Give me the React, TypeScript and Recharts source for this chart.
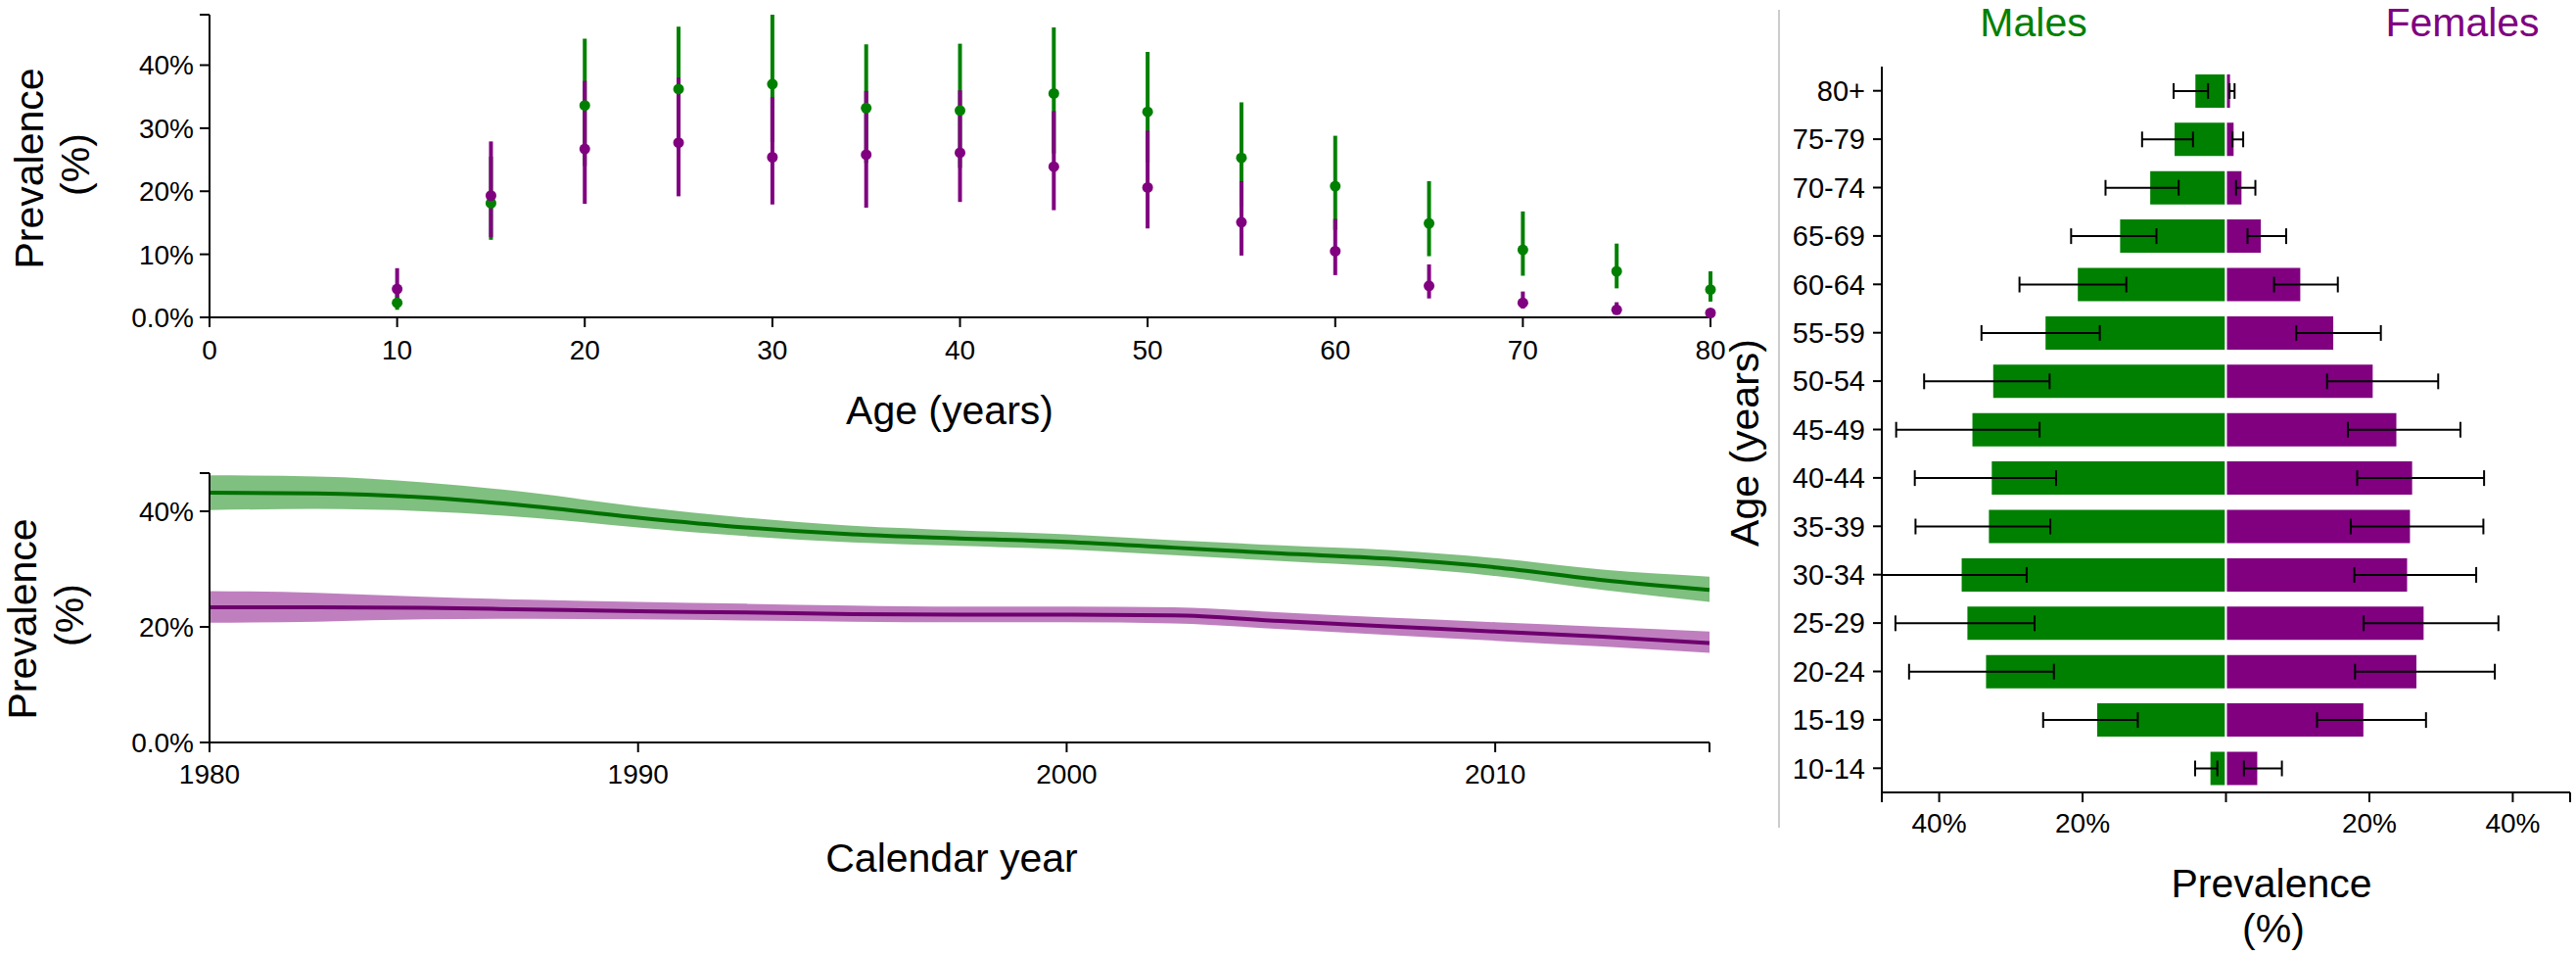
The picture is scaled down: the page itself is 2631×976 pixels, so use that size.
import React from 'react';
import { ComposedChart, Scatter, ErrorBar, XAxis, YAxis, Area, Line, BarChart, Bar } from 'recharts';

// age groups, bottom to top in the pyramid
const ageGroups = ['10-14', '15-19', '20-24', '25-29', '30-34', '35-39', '40-44', '45-49', '50-54', '55-59', '60-64', '65-69', '70-74', '75-79', '80+'];
const ageMid = [10, 15, 20, 25, 30, 35, 40, 45, 50, 55, 60, 65, 70, 75, 80];

const maleValue = [2.3, 18.1, 33.6, 36.2, 37.0, 33.2, 32.8, 35.5, 32.6, 25.3, 20.8, 14.9, 10.7, 7.3, 4.4];
const maleLow = [1.2, 12.3, 24.0, 26.7, 27.8, 24.5, 23.7, 26.0, 24.6, 17.6, 13.9, 9.7, 6.6, 4.6, 2.5];
const maleHigh = [4.3, 25.5, 44.2, 46.1, 48.0, 43.3, 43.4, 46.0, 42.1, 34.1, 28.8, 21.6, 16.8, 11.7, 7.3];

const femaleValue = [4.5, 19.3, 26.7, 27.7, 25.4, 25.8, 26.1, 23.9, 20.6, 15.1, 10.5, 5.0, 2.3, 1.2, 0.7];
const femaleLow = [2.5, 12.7, 18.0, 19.2, 17.9, 17.4, 18.3, 17.0, 14.1, 9.8, 6.7, 3.0, 1.4, 0.9, 0.5];
const femaleHigh = [7.8, 27.9, 37.5, 38.0, 34.9, 35.9, 36.0, 32.7, 29.6, 21.6, 15.6, 8.4, 4.1, 2.4, 1.2];

// calendar-year trend
const years = [1980, 1982.5, 1985, 1987.5, 1990, 1992.5, 1995, 1997.5, 2000, 2002.5, 2005, 2007.5, 2010, 2012.5, 2015];
const maleTrend = [43.2, 43.1, 42.4, 40.9, 38.9, 37.2, 36.0, 35.3, 34.7, 33.7, 32.7, 31.8, 30.3, 28.1, 26.4];
const maleTrendLow = [40.2, 40.4, 40.0, 38.9, 37.2, 35.7, 34.6, 34.0, 33.4, 32.4, 31.4, 30.4, 28.8, 26.4, 24.3];
const maleTrendHigh = [46.2, 46.0, 45.0, 43.2, 40.8, 38.9, 37.5, 36.7, 36.0, 35.0, 34.1, 33.3, 31.9, 29.9, 28.7];
const femaleTrend = [23.4, 23.4, 23.3, 23.0, 22.7, 22.5, 22.2, 22.1, 22.1, 22.0, 21.0, 20.1, 19.2, 18.3, 17.2];
const femaleTrendLow = [20.7, 20.9, 21.3, 21.4, 21.3, 21.1, 20.9, 20.8, 20.8, 20.6, 19.6, 18.6, 17.6, 16.6, 15.5];
const femaleTrendHigh = [26.2, 25.9, 25.2, 24.7, 24.3, 24.0, 23.7, 23.5, 23.5, 23.4, 22.5, 21.6, 20.8, 20.0, 19.2];

const ageTicks = [0, 10, 20, 30, 40, 50, 60, 70, 80];
const ageYTicks = [0, 10, 20, 30, 40, 48];
const yearTicks = [1980, 1990, 2000, 2010, 2015];
const yearYTicks = [0, 20, 40, 46.6];
const pyramidTicks = [-48, -40, -20, 0, 20, 40, 48];

const GREEN = '#008000';
const PURPLE = '#800080';
const FONT = '"Liberation Sans", Arial, Helvetica, sans-serif';

const ageData = ageMid.map((age, i) => ({
  age,
  male: maleValue[i],
  female: femaleValue[i],
  maleErr: [maleValue[i] - maleLow[i], maleHigh[i] - maleValue[i]],
  femaleErr: [femaleValue[i] - femaleLow[i], femaleHigh[i] - femaleValue[i]],
}));

const trendData = years.map((year, i) => ({
  year,
  male: maleTrend[i],
  female: femaleTrend[i],
  maleBand: [maleTrendLow[i], maleTrendHigh[i]],
  femaleBand: [femaleTrendLow[i], femaleTrendHigh[i]],
}));

const pyramidData = ageGroups.map((group, i) => ({
  group,
  maleNeg: -maleValue[i],
  female: femaleValue[i],
  // male bars point left, so the offsets swap sides
  maleErr: [maleHigh[i] - maleValue[i], maleValue[i] - maleLow[i]],
  femaleErr: [femaleValue[i] - femaleLow[i], femaleHigh[i] - femaleValue[i]],
}));

const axisStyle = { stroke: '#000', strokeWidth: 2 };
const tickStyle = { fill: '#000', fontSize: 28, fontFamily: FONT };

const pctLabel = (v: number) => (v === 0 ? '0.0%' : v === 48 || v === 46.6 ? '' : `${v}%`);

const Overlay = () => (
  <svg width={2631} height={976} style={{ position: 'absolute', left: 0, top: 0, pointerEvents: 'none' }} fontFamily={FONT}>
    <g fontSize={41} fill="#000" textAnchor="middle">
      <text x={44} y={172} transform="rotate(-90 44 172)">Prevalence</text>
      <text x={91} y={168} transform="rotate(-90 91 168)">(%)</text>
      <text x={970} y={433}>Age (years)</text>
      <text x={37} y={632} transform="rotate(-90 37 632)">Prevalence</text>
      <text x={85} y={628} transform="rotate(-90 85 628)">(%)</text>
      <text x={972} y={890}>Calendar year</text>
      <text x={1796} y={452} transform="rotate(-90 1796 452)">Age (years)</text>
      <text x={2320} y={916}>Prevalence</text>
      <text x={2322} y={962}>(%)</text>
      <text x={2077} y={37} fill={GREEN}>Males</text>
      <text x={2515} y={37} fill={PURPLE}>Females</text>
    </g>
    <line x1={1817} y1={10} x2={1817} y2={845} stroke="#cccccc" strokeWidth={2} />
  </svg>
);

const App = () => {
  return (
    <div style={{ position: 'absolute', left: 0, top: 0, width: 2631, height: 976, background: '#fff', fontFamily: FONT }}>
      {/* prevalence by age */}
      <div style={{ position: 'absolute', left: 0, top: 0 }}>
        <ComposedChart width={1800} height={470} data={ageData} margin={{ top: 15, right: 53, bottom: 86, left: 114 }}>
          <XAxis
            dataKey="age"
            type="number"
            domain={[0, 80]}
            ticks={ageTicks}
            interval={0}
            height={60}
            axisLine={axisStyle}
            tickLine={axisStyle}
            tickSize={10}
            tickMargin={13}
            tick={tickStyle}
          />
          <YAxis
            type="number"
            domain={[0, 48]}
            ticks={ageYTicks}
            interval={0}
            width={100}
            axisLine={axisStyle}
            tickLine={axisStyle}
            tickSize={10}
            tickMargin={6}
            tick={tickStyle}
            tickFormatter={pctLabel}
          />
          <Scatter dataKey="male" fill={GREEN} isAnimationActive={false} shape={(p: any) => <circle cx={p.cx} cy={p.cy} r={5.5} fill={GREEN} />}>
            <ErrorBar dataKey="maleErr" direction="y" width={0} stroke={GREEN} strokeWidth={4} isAnimationActive={false} />
          </Scatter>
          <Scatter dataKey="female" fill={PURPLE} isAnimationActive={false} shape={(p: any) => <circle cx={p.cx} cy={p.cy} r={5.5} fill={PURPLE} />}>
            <ErrorBar dataKey="femaleErr" direction="y" width={0} stroke={PURPLE} strokeWidth={4} isAnimationActive={false} />
          </Scatter>
        </ComposedChart>
      </div>

      {/* prevalence by calendar year */}
      <div style={{ position: 'absolute', left: 0, top: 440 }}>
        <ComposedChart width={1800} height={420} data={trendData} margin={{ top: 43, right: 54, bottom: 52, left: 114 }}>
          <XAxis
            dataKey="year"
            type="number"
            domain={[1980, 2015]}
            ticks={yearTicks}
            interval={0}
            height={50}
            axisLine={axisStyle}
            tickLine={axisStyle}
            tickSize={10}
            tickMargin={12}
            tick={tickStyle}
            tickFormatter={(v: number) => (v === 2015 ? '' : `${v}`)}
          />
          <YAxis
            type="number"
            domain={[0, 46.6]}
            ticks={yearYTicks}
            interval={0}
            width={100}
            axisLine={axisStyle}
            tickLine={axisStyle}
            tickSize={10}
            tickMargin={6}
            tick={tickStyle}
            tickFormatter={pctLabel}
          />
          <Area type="monotone" dataKey="maleBand" stroke="none" fill={GREEN} fillOpacity={0.5} isAnimationActive={false} />
          <Area type="monotone" dataKey="femaleBand" stroke="none" fill={PURPLE} fillOpacity={0.5} isAnimationActive={false} />
          <Line type="monotone" dataKey="male" stroke="#007000" strokeWidth={4} dot={false} isAnimationActive={false} />
          <Line type="monotone" dataKey="female" stroke="#6e006e" strokeWidth={4} dot={false} isAnimationActive={false} />
        </ComposedChart>
      </div>

      {/* age pyramid */}
      <div style={{ position: 'absolute', left: 1820, top: 40 }}>
        <BarChart
          width={811}
          height={830}
          data={pyramidData}
          layout="vertical"
          stackOffset="sign"
          barCategoryGap="14%"
          margin={{ top: 28, right: 6, bottom: 11, left: 2 }}
        >
          <XAxis
            type="number"
            domain={[-48, 48]}
            ticks={pyramidTicks}
            interval={0}
            height={50}
            axisLine={axisStyle}
            tickLine={axisStyle}
            tickSize={10}
            tickMargin={11}
            tick={tickStyle}
            tickFormatter={(v: number) => (Math.abs(v) === 20 || Math.abs(v) === 40 ? `${Math.abs(v)}%` : '')}
          />
          <YAxis
            type="category"
            dataKey="group"
            reversed
            interval={0}
            width={100}
            axisLine={axisStyle}
            tickLine={axisStyle}
            tickSize={9}
            tickMargin={8}
            tick={{ ...tickStyle, fontSize: 29 }}
          />
          <Bar dataKey="maleNeg" stackId="p" fill={GREEN} stroke="#fff" strokeWidth={2} isAnimationActive={false}>
            <ErrorBar dataKey="maleErr" direction="x" width={8} stroke="#000" strokeWidth={2} isAnimationActive={false} />
          </Bar>
          <Bar dataKey="female" stackId="p" fill={PURPLE} stroke="#fff" strokeWidth={2} isAnimationActive={false}>
            <ErrorBar dataKey="femaleErr" direction="x" width={8} stroke="#000" strokeWidth={2} isAnimationActive={false} />
          </Bar>
        </BarChart>
      </div>

      <Overlay />
    </div>
  );
};

export default App;
